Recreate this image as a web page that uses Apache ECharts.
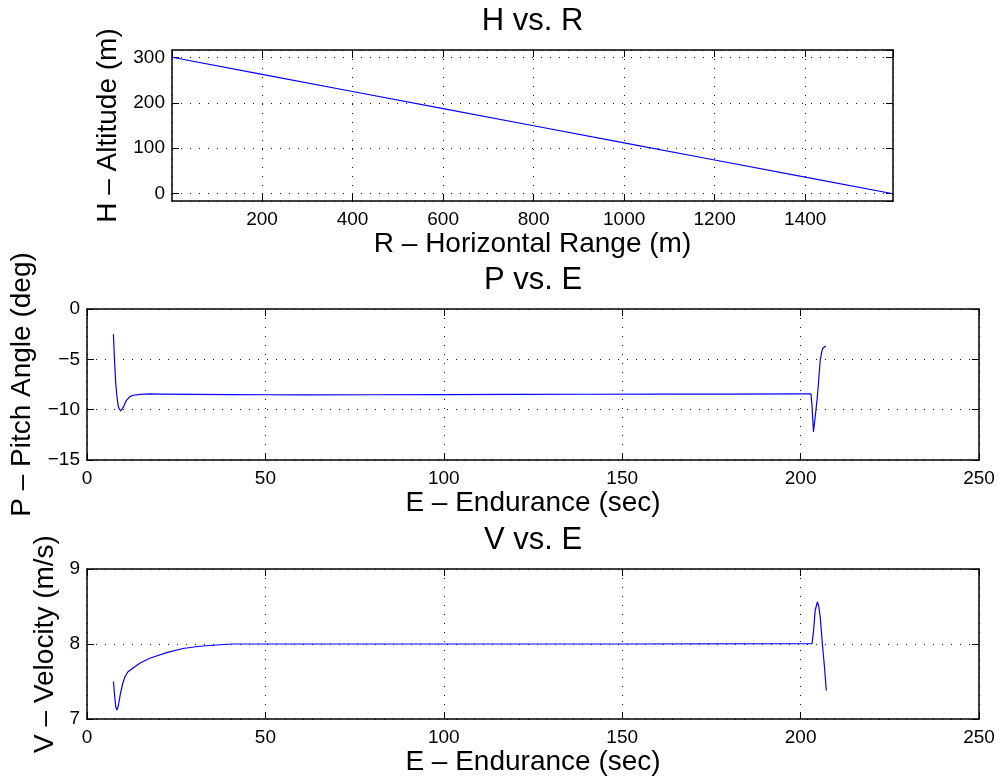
<!DOCTYPE html>
<html><head><meta charset="utf-8">
<script src="https://cdn.jsdelivr.net/npm/echarts@6/dist/echarts.min.js"></script>
<style>html,body{margin:0;padding:0;background:#fff}#c{width:999px;height:780px}</style>
</head><body><div id="c"></div>
<script>
// ---- Data ----
const rangeR = [1, 200, 400, 600, 800, 1000, 1200, 1400, 1594];
const altitudeH = [300, 262.4, 224.7, 187.1, 149.5, 111.8, 74.2, 36.6, 0];

const enduranceP = [7.4, 7.7, 8.05, 8.4, 8.8, 9.4, 10.1, 11.05, 12.0, 12.9, 15, 17.6, 20, 30, 40, 50, 60, 80, 100, 120, 140, 160, 180, 200, 202.9, 203.2, 203.6, 204.0, 204.6, 205.0, 205.5, 205.9, 206.2, 206.6, 207.1];
const pitchP = [-2.5, -5.0, -7.4, -8.74, -9.74, -10.14, -9.8, -9.07, -8.7, -8.57, -8.48, -8.44, -8.45, -8.48, -8.5, -8.52, -8.53, -8.52, -8.5, -8.48, -8.47, -8.46, -8.45, -8.43, -8.43, -9.6, -12.2, -11.0, -9.07, -7.4, -5.07, -4.3, -3.9, -3.75, -3.67];

const enduranceV = [7.4, 7.79, 8.1, 8.4, 8.8, 9.37, 10.0, 10.6, 11.5, 12.9, 15, 17.6, 22.3, 26.9, 31.6, 36.3, 41, 50, 100, 150, 203.2, 203.6, 204.1, 204.7, 205.1, 205.5, 206.1, 206.7, 207.2];
const velocityV = [7.5, 7.29, 7.15, 7.12, 7.18, 7.34, 7.47, 7.56, 7.63, 7.68, 7.75, 7.81, 7.885, 7.94, 7.97, 7.987, 8.0, 8.0, 8.0, 8.0, 8.005, 8.16, 8.45, 8.56, 8.5, 8.36, 8.0, 7.69, 7.38];

const titles = ['H vs. R', 'P vs. E', 'V vs. E'];
const xLabels = ['R \u2013 Horizontal Range (m)', 'E \u2013 Endurance (sec)', 'E \u2013 Endurance (sec)'];
const yLabels = ['H \u2013 Altitude (m)', 'P \u2013 Pitch Angle (deg)', 'V \u2013 Velocity (m/s)'];

// ---- Layout ----
const FONT = '"Liberation Sans", Arial, Helvetica, sans-serif';
const grids = [
  {left: 172, top: 50, width: 721, height: 151},
  {left: 87, top: 309, width: 892, height: 151},
  {left: 87, top: 569, width: 892, height: 150}
];
const xr = [[1, 1594, 200], [0, 250, 50], [0, 250, 50]];
const yr = [[-16, 316, 100], [-15, 0, 5], [7, 9, 1]];

const dotted = {color: '#111', width: 1, type: [1, 8]};
const tick = {show: true, inside: true, length: 7, lineStyle: {color: '#000', width: 1}};
const line = {show: true, onZero: false, lineStyle: {color: '#000', width: 1.5}};
const fmt = v => String(v).replace('-', '\u2212');
const lbl = {color: '#000', fontFamily: FONT, fontSize: 19, formatter: fmt};

const xAxis = [], yAxis = [];
grids.forEach((g, i) => {
  const [x0, x1, xs] = xr[i];
  const [y0, y1, ys] = yr[i];
  xAxis.push({type: 'value', gridIndex: i, position: 'bottom', min: x0, max: x1,
    minInterval: xs, maxInterval: xs, axisLine: line, axisTick: tick,
    axisLabel: Object.assign({margin: 9, showMinLabel: i !== 0, showMaxLabel: i !== 0}, lbl),
    splitLine: {show: true, lineStyle: dotted}});
  xAxis.push({type: 'value', gridIndex: i, position: 'top', min: x0, max: x1,
    minInterval: xs, maxInterval: xs, axisLine: line, axisTick: tick,
    axisLabel: {show: false}, splitLine: {show: false}});
  yAxis.push({type: 'value', gridIndex: i, position: 'left', min: y0, max: y1,
    minInterval: ys, maxInterval: ys, axisLine: line, axisTick: tick,
    axisLabel: Object.assign({margin: 7, showMinLabel: i !== 0, showMaxLabel: i !== 0}, lbl),
    splitLine: {show: true, lineStyle: dotted}});
  yAxis.push({type: 'value', gridIndex: i, position: 'right', min: y0, max: y1,
    minInterval: ys, maxInterval: ys, axisLine: line, axisTick: tick,
    axisLabel: {show: false}, splitLine: {show: false}});
});

function pairs(xs, ys) { return xs.map((x, k) => [x, ys[k]]); }
const seriesData = [pairs(rangeR, altitudeH), pairs(enduranceP, pitchP), pairs(enduranceV, velocityV)];
const series = seriesData.map((d, i) => ({
  type: 'line', xAxisIndex: 2 * i, yAxisIndex: 2 * i, data: d,
  showSymbol: false, symbol: 'none', smooth: false, animation: false,
  lineStyle: {color: '#0000ff', width: 1.2}
}));

const graphic = [];
const titleY = [21, 280, 540];
const xLabY = [244, 503.5, 762];
const yLabX = [108, 22.5, 45];
grids.forEach((g, i) => {
  const cx = g.left + g.width / 2;
  const cy = g.top + g.height / 2;
  graphic.push({type: 'text', x: cx, y: titleY[i], silent: true,
    style: {text: titles[i], font: '31px ' + FONT, fill: '#000', textAlign: 'center', textVerticalAlign: 'middle'}});
  graphic.push({type: 'text', x: cx, y: xLabY[i], silent: true,
    style: {text: xLabels[i], font: '28px ' + FONT, fill: '#000', textAlign: 'center', textVerticalAlign: 'middle'}});
  graphic.push({type: 'text', x: yLabX[i], y: cy, rotation: Math.PI / 2, silent: true,
    style: {text: yLabels[i], font: '28px ' + FONT, fill: '#000', textAlign: 'center', textVerticalAlign: 'middle'}});
});

const chart = echarts.init(document.getElementById('c'), null, {renderer: 'canvas'});
chart.setOption({
  backgroundColor: '#fff',
  animation: false,
  grid: grids.map(g => Object.assign({containLabel: false, outerBoundsMode: 'none'}, g)),
  xAxis, yAxis, series, graphic
});
</script>
</body></html>
